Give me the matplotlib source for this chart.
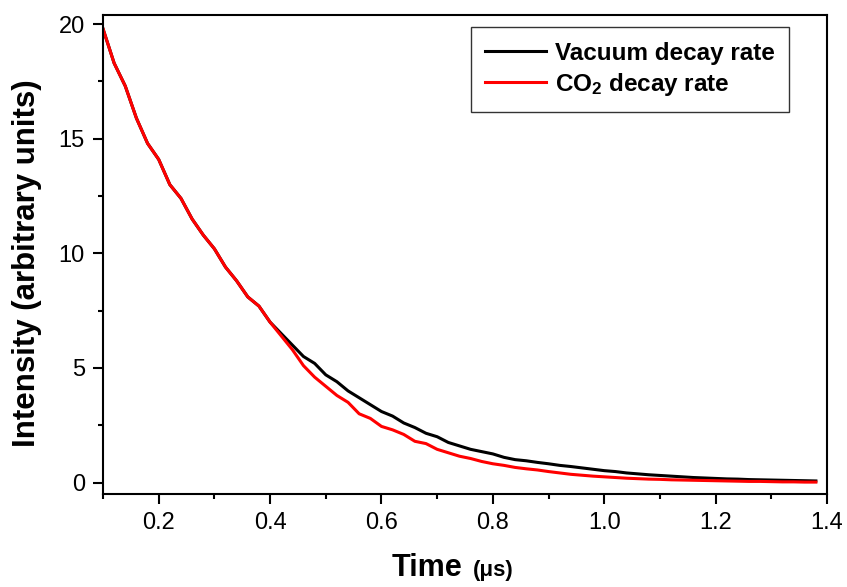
import matplotlib
matplotlib.use("Agg")
import matplotlib.pyplot as plt
from matplotlib.ticker import MultipleLocator

plt.rcParams['font.family'] = ['Liberation Sans', 'DejaVu Sans']
plt.rcParams['mathtext.fontset'] = 'custom'
plt.rcParams['mathtext.rm'] = 'Liberation Sans'
plt.rcParams['mathtext.bf'] = 'Liberation Sans:bold'
plt.rcParams['mathtext.it'] = 'Liberation Sans:italic'

# time axis (microseconds)
time_us = [0.10, 0.12, 0.14, 0.16, 0.18, 0.20, 0.22, 0.24, 0.26, 0.28,
           0.30, 0.32, 0.34, 0.36, 0.38, 0.40, 0.42, 0.44, 0.46, 0.48,
           0.50, 0.52, 0.54, 0.56, 0.58, 0.60, 0.62, 0.64, 0.66, 0.68,
           0.70, 0.72, 0.74, 0.76, 0.78, 0.80, 0.82, 0.84, 0.86, 0.88,
           0.90, 0.92, 0.94, 0.96, 0.98, 1.00, 1.02, 1.04, 1.06, 1.08,
           1.10, 1.12, 1.14, 1.16, 1.18, 1.20, 1.22, 1.24, 1.26, 1.28,
           1.30, 1.32, 1.34, 1.36, 1.38]

vacuum = [19.8, 18.3, 17.3, 15.9, 14.8, 14.1, 13.0, 12.4, 11.5, 10.8,
          10.2, 9.4, 8.8, 8.1, 7.7, 7.0, 6.5, 6.0, 5.5, 5.2,
          4.7, 4.4, 4.0, 3.7, 3.4, 3.1, 2.9, 2.6, 2.4, 2.15,
          2.0, 1.75, 1.6, 1.45, 1.35, 1.25, 1.1, 1.0, 0.95, 0.88,
          0.82, 0.75, 0.70, 0.64, 0.58, 0.52, 0.48, 0.42, 0.38, 0.34,
          0.31, 0.28, 0.25, 0.22, 0.20, 0.18, 0.16, 0.15, 0.13, 0.12,
          0.11, 0.10, 0.09, 0.08, 0.07]

co2 = [19.8, 18.3, 17.3, 15.9, 14.8, 14.1, 13.0, 12.4, 11.5, 10.8,
       10.2, 9.4, 8.8, 8.1, 7.7, 7.0, 6.4, 5.8, 5.1, 4.6,
       4.2, 3.8, 3.5, 3.0, 2.8, 2.45, 2.3, 2.1, 1.8, 1.7,
       1.45, 1.3, 1.15, 1.05, 0.92, 0.82, 0.75, 0.66, 0.60, 0.55,
       0.48, 0.42, 0.36, 0.32, 0.28, 0.25, 0.22, 0.19, 0.17, 0.15,
       0.14, 0.12, 0.11, 0.10, 0.09, 0.08, 0.07, 0.06, 0.05, 0.05,
       0.04, 0.03, 0.03, 0.02, 0.02]

fig = plt.figure(figsize=(8.47, 5.87), dpi=100)
ax = fig.add_axes([0.1216, 0.1584, 0.8548, 0.816])

ax.plot(time_us, vacuum, color='black', lw=2.2, label='Vacuum decay rate')
ax.plot(time_us, co2, color='red', lw=2.2, label=r'CO$_\mathbf{2}$ decay rate')

ax.set_xlim(0.1, 1.4)
ax.set_ylim(-0.5, 20.4)
ax.xaxis.set_minor_locator(MultipleLocator(0.1))
ax.yaxis.set_major_locator(MultipleLocator(5))
ax.yaxis.set_minor_locator(MultipleLocator(2.5))
ax.set_xticks([0.2, 0.4, 0.6, 0.8, 1.0, 1.2, 1.4])
ax.set_xticklabels(['0.2', '0.4', '0.6', '0.8', '1.0', '1.2', '1.4'])

for s in ax.spines.values():
    s.set_linewidth(1.5)
ax.tick_params(which='major', direction='out', length=7, width=1.5,
               labelsize=17, pad=6)
ax.tick_params(which='minor', direction='out', length=3.5, width=1.5)

ax.set_ylabel('Intensity (arbitrary units)', fontsize=22.5, fontweight='bold')
ax.yaxis.set_label_coords(-0.084, 0.482)
fig.text(0.4628, 0.018, 'Time', fontsize=22, fontweight='bold',
         ha='left', va='baseline')
fig.text(0.5584, 0.018, '(μs)', fontsize=16, fontweight='bold',
         ha='left', va='baseline')

leg = ax.legend(loc='upper right', bbox_to_anchor=(0.9475, 0.975),
                borderaxespad=0, fontsize=17.5, frameon=True, fancybox=False,
                handlelength=2.5, borderpad=0.6, labelspacing=0.25,
                handletextpad=0.35)
leg.get_frame().set_edgecolor('black')
leg.get_frame().set_linewidth(1.0)
for t in leg.get_texts():
    t.set_fontweight('bold')

fig.savefig('out.png', dpi=100)
